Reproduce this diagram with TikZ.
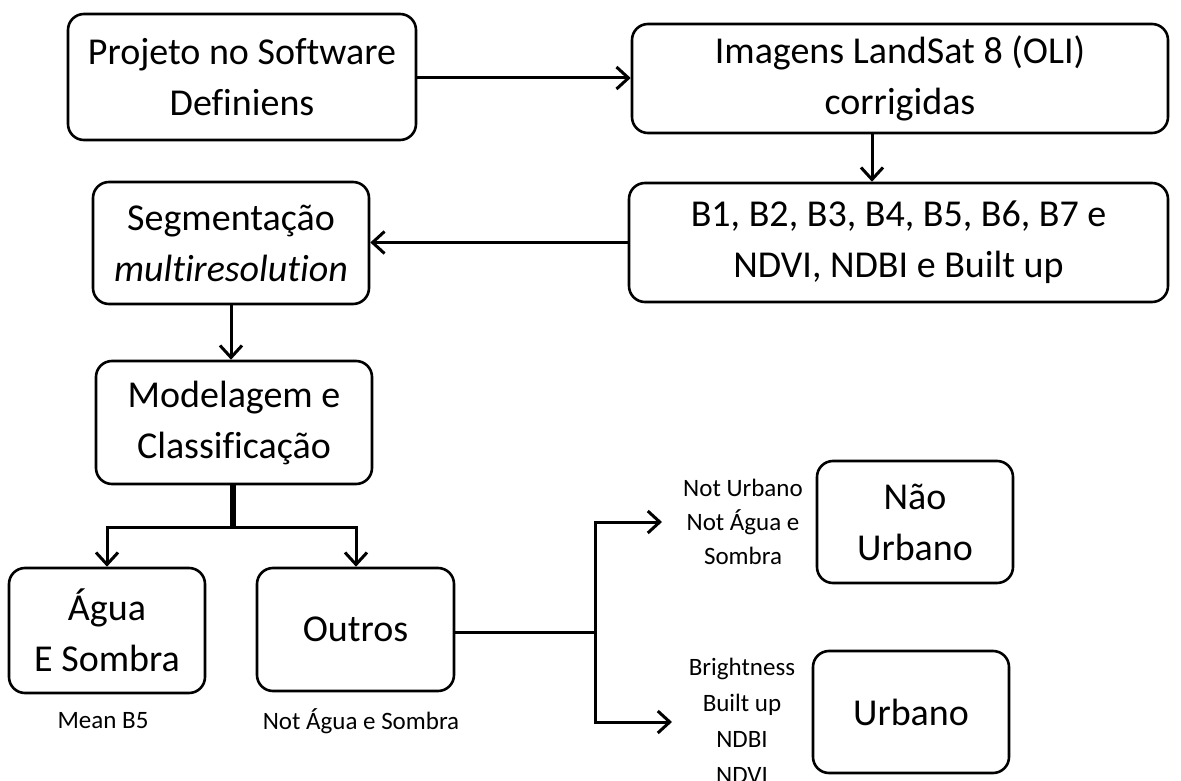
\documentclass[tikz,border=0pt]{standalone}
\usepackage{fontspec}
\setmainfont{Carlito}[Ligatures=NoCommon]
\usetikzlibrary{arrows.meta,calc}
\begin{document}
\begin{tikzpicture}[x=1pt,y=-1pt,
  box/.style={draw,line width=2.6pt,rounded corners=16pt,align=center,inner sep=0pt,
    font=\fontsize{38}{51}\selectfont},
  lbl/.style={align=center,inner sep=0pt,font=\fontsize{25}{34}\selectfont},
  conn/.style={line width=3pt},
  arr/.style={conn,-{Straight Barb[length=12pt,width=22pt,line width=3pt]}},
]
\useasboundingbox (0,0) rectangle (1181,781);
\node[box,minimum width=348pt,minimum height=126pt] (b1) at (242,77) {Projeto no Software\\Definiens};
\node[box,minimum width=536pt,minimum height=109pt] (b2) at (900,78.5) {Imagens LandSat 8 (OLI)\\corrigidas};
\node[box,minimum width=539pt,minimum height=119pt] (b3) at (898.5,242.5) {B1, B2, B3, B4, B5, B6, B7 e\\NDVI, NDBI e Built up};
\node[box,minimum width=276pt,minimum height=122pt] (b4) at (231,243) {Segmentação\\\textit{multiresolution}};
\node[box,minimum width=276pt,minimum height=123pt] (b5) at (234,422.5) {Modelagem e\\Classificação};
\node[box,minimum width=196pt,minimum height=125pt] (b6) at (107,630.5) {Água\\E Sombra};
\node[box,minimum width=197pt,minimum height=123pt] (b7) at (355.5,629.5) {Outros};
\node[box,minimum width=196pt,minimum height=122pt] (b8) at (915,522) {Não\\Urbano};
\node[box,minimum width=196pt,minimum height=122pt] (b9) at (911,712) {Urbano};

\node[lbl] (l1) at (103,721) {Mean B5};
\node[lbl] (l2) at (361,721) {Not Água e Sombra};
\node[lbl] (l3) at (743,522) {Not Urbano\\Not Água e\\Sombra};
\node[lbl,font=\fontsize{25}{36}\selectfont] (l4) at (742,721) {Brightness\\Built up\\NDBI\\NDVI};

\draw[arr] (b1.east |- 0,78) -- (b2.west |- 0,78);
\draw[arr] ([xshift=-28pt]b2.south) -- ([xshift=-28pt]b2.south |- b3.north);
\draw[arr] (b3.west) -- (b4.east |- b3.west);
\draw[arr] (b4.south) -- (b4.south |- b5.north);

\coordinate (s) at (233,527);
\draw[line width=5.5pt] (b5.south -| s) -- (s);
\draw[arr] (s) -| (b6.north);
\draw[arr] (s) -| ([xshift=0.5pt]b7.north);

\coordinate (j) at (595,632);
\coordinate (jt) at (595,522);
\coordinate (jb) at (595,722);
\coordinate (e1) at (662,522);
\coordinate (e2) at (672,722);
\draw[conn] (b7.east |- j) -- (j);
\draw[arr] (j) -- (jt) -- (e1);
\draw[arr] (j) -- (jb) -- (e2);
\end{tikzpicture}
\end{document}
